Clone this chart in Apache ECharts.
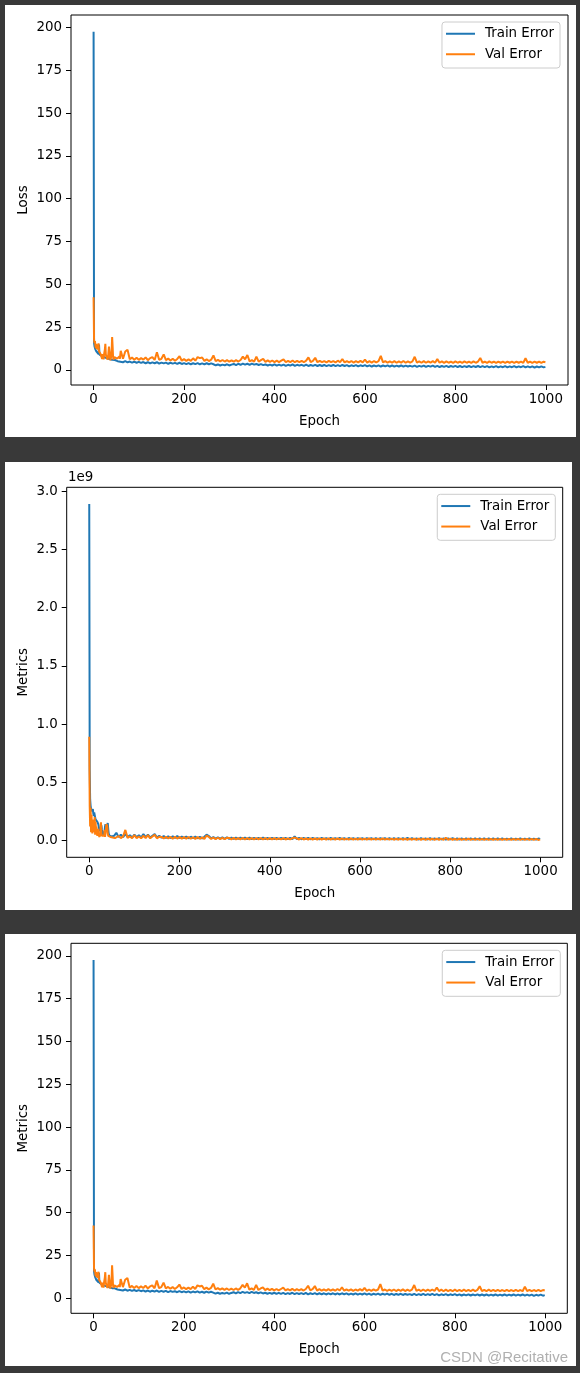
<!DOCTYPE html>
<html><head><meta charset="utf-8">
<script src="https://cdn.jsdelivr.net/npm/echarts@6/dist/echarts.min.js"></script>
<style>
html,body{margin:0;padding:0;background:#393939;width:580px;height:1373px;overflow:hidden}
.panel{position:absolute;background:#fff}
</style></head><body>
<div id="p1" class="panel" style="left:5px;top:5px;width:571px;height:432px"></div>
<div id="p2" class="panel" style="left:5px;top:462px;width:567px;height:448px"></div>
<div id="p3" class="panel" style="left:5px;top:934px;width:571px;height:432px"></div>
<script>
// ---------- DATA ----------
const earlyEpochs = [0,1,2,3,4,5,6,7,8,9,10,11,12,13,14,15,16,17,18,19,20,21,22,23,24,25,26,27,28,29,30,31,32,33,34,35,36,37,38,39,40,41,42,43,44,45,46,47,48,49,50,51,52,53,54,55,56,57,58,59];
const lateEpochs = [60,65,70,75,80,85,90,95,100,105,110,115,120,125,130,135,140,145,150,155,160,165,170,175,180,185,190,195,200,205,210,215,220,225,230,235,240,245,250,255,260,265,270,275,280,285,290,295,300,305,310,315,320,325,330,335,340,345,350,355,360,365,370,375,380,385,390,395,400,405,410,415,420,425,430,435,440,445,450,455,460,465,470,475,480,485,490,495,500,505,510,515,520,525,530,535,540,545,550,555,560,565,570,575,580,585,590,595,600,605,610,615,620,625,630,635,640,645,650,655,660,665,670,675,680,685,690,695,700,705,710,715,720,725,730,735,740,745,750,755,760,765,770,775,780,785,790,795,800,805,810,815,820,825,830,835,840,845,850,855,860,865,870,875,880,885,890,895,900,905,910,915,920,925,930,935,940,945,950,955,960,965,970,975,980,985,990,995,999];

// Loss (panel 1 and panel 3)
const trainLossEarly = [197.5,15.8,13.9,12.8,12.0,11.2,10.8,10.3,10.0,9.7,9.5,9.2,14.8,9.0,8.8,8.6,8.5,8.3,8.6,8.1,7.9,7.7,7.6,7.8,7.4,7.3,8.2,7.1,7.0,6.9,7.0,6.7,6.6,6.5,6.8,6.4,6.3,6.2,6.5,6.1,6.0,5.9,6.6,6.0,5.8,5.7,5.6,5.8,5.5,5.4,5.3,5.5,5.2,5.1,5.3,5.0,4.9,5.1,4.9,4.8];
const trainLossLate = [
5.2,4.5,5.1,4.4,4.9,4.3,4.8,4.2,4.7,4.1,
4.6,3.9,4.5,3.8,4.4,3.9,4.5,3.7,4.3,3.8,
4.3,3.6,4.2,3.7,4.1,3.5,4.2,3.5,4.0,3.4,
4.0,3.3,3.9,3.4,4.0,3.3,3.8,3.2,3.9,3.3,
3.8,3.3,2.7,3.2,2.6,3.1,2.7,3.3,2.6,3.1,
3.5,2.8,3.6,3.0,3.7,3.1,3.6,3.0,3.7,3.1,
3.5,2.9,3.4,2.8,3.2,2.6,3.1,2.6,3.2,2.5,
3.1,2.5,3.1,2.4,3.0,2.5,3.2,2.4,3.0,2.5,
3.0,2.4,3.1,2.3,2.9,2.4,3.0,2.3,2.9,2.3,
2.9,2.2,2.8,2.3,2.9,2.2,2.8,2.2,2.9,2.3,
2.8,2.1,2.7,2.2,2.8,2.1,2.7,2.2,2.8,2.1,
2.7,2.0,2.6,2.1,2.7,2.0,2.6,2.1,2.7,2.0,
2.6,1.9,2.5,2.0,2.6,1.9,2.5,2.0,2.4,1.9,
2.5,1.8,2.4,1.9,2.5,1.8,2.4,1.9,2.5,1.8,
2.4,1.7,2.3,1.8,2.4,1.7,2.3,1.8,2.4,1.7,
2.3,1.6,2.2,1.7,2.3,1.6,2.2,1.7,2.3,1.6,
2.2,1.6,2.2,1.5,2.1,1.6,2.2,1.5,2.1,1.6,
2.2,1.5,2.1,1.6,2.2,1.5,2.1,1.6,2.2,1.5,
2.1,1.5,2.1,1.4,2.0,1.5,2.1,1.5,
1.8];
const valLossEarly = [42.5,17.8,15.6,16.9,14.0,12.8,15.2,12.2,11.5,14.6,11.8,15.5,10.8,10.2,10.9,9.6,9.3,10.0,8.8,6.5,9.2,8.3,6.2,8.8,7.8,12.2,15.2,9.2,8.0,7.6,8.2,6.0,7.3,7.8,13.6,14.0,8.3,5.6,6.0,7.9,11.5,19.2,14.2,8.0,6.0,7.0,7.5,6.9,6.8,7.3,6.7,6.9,6.6,7.1,6.5,6.9,6.4,7.8,6.5,6.3];
const valLossLate = [
11.2,6.5,10.8,11.8,6.2,7.2,6.0,7.1,5.9,6.9,
6.0,7.3,5.7,6.9,7.5,5.8,10.3,5.9,6.5,9.1,
5.7,6.6,5.5,6.5,5.4,6.4,8.0,5.4,6.3,5.3,
6.2,5.3,6.8,5.4,7.5,6.9,7.3,5.3,6.2,5.2,
6.0,8.5,5.1,5.9,5.0,5.8,4.9,5.7,4.8,5.6,
4.8,5.7,4.9,5.8,7.8,6.2,8.7,5.0,5.7,4.9,
7.8,4.8,5.7,6.4,4.7,5.6,4.7,5.5,4.6,5.4,
4.6,5.4,6.2,4.6,5.3,4.6,5.5,4.5,5.3,4.6,
5.3,4.5,5.4,7.3,4.6,5.3,7.1,4.5,5.3,4.5,
5.2,4.4,5.3,4.5,5.2,4.4,5.4,4.5,6.4,4.4,
5.2,4.4,5.2,4.3,5.1,4.4,5.3,4.4,6.1,4.3,
5.1,4.3,5.2,4.4,5.1,8.2,4.4,5.1,4.3,5.0,
4.3,5.1,4.2,5.0,4.3,5.2,4.2,5.0,4.3,5.0,
7.7,4.3,5.0,4.2,5.1,4.2,5.0,4.3,5.1,4.2,
6.3,4.2,5.0,4.1,5.0,4.2,4.9,4.1,5.0,4.2,
4.9,4.1,5.0,4.2,4.9,4.1,5.0,4.2,4.9,7.0,
4.2,4.9,4.1,5.0,4.2,4.9,4.1,4.9,4.2,4.8,
4.1,4.9,4.2,4.8,4.1,4.9,4.2,4.8,4.1,6.8,
4.2,4.9,4.1,4.8,4.2,4.9,4.1,4.8,
4.5];

// Metrics (panel 2), in units of 1e9
const trainMetricEarly = [2.89,0.62,0.35,0.30,0.27,0.25,0.26,0.24,0.27,0.23,0.21,0.24,0.22,0.20,0.18,0.19,0.17,0.18,0.16,0.15,0.14,0.12,0.10,0.09,0.08,0.07,0.10,0.13,0.09,0.07,0.06,0.05,0.06,0.05,0.08,0.12,0.14,0.15,0.11,0.08,0.13,0.15,0.10,0.06,0.05,0.04,0.05,0.04,0.035,0.04,0.035,0.03,0.04,0.035,0.03,0.04,0.05,0.035,0.03,0.04];
const trainMetricLate = [
0.065,0.030,0.050,0.028,0.055,0.030,0.045,0.025,0.050,0.028,
0.045,0.025,0.055,0.028,0.050,0.024,0.040,0.055,0.025,0.040,
0.024,0.038,0.022,0.036,0.020,0.035,0.022,0.038,0.020,0.034,
0.020,0.034,0.018,0.032,0.019,0.033,0.018,0.030,0.017,0.031,
0.050,0.038,0.018,0.028,0.016,0.027,0.015,0.026,0.014,0.026,
0.014,0.025,0.013,0.024,0.014,0.025,0.013,0.024,0.012,0.024,
0.012,0.023,0.011,0.023,0.012,0.024,0.011,0.022,0.012,0.023,
0.011,0.022,0.012,0.023,0.011,0.022,0.010,0.023,0.011,0.035,
0.011,0.022,0.010,0.021,0.011,0.022,0.010,0.021,0.011,0.020,
0.010,0.021,0.011,0.020,0.010,0.021,0.010,0.020,0.011,0.021,
0.010,0.020,0.009,0.021,0.010,0.020,0.009,0.020,0.010,0.019,
0.009,0.020,0.010,0.019,0.009,0.020,0.009,0.019,0.010,0.020,
0.009,0.019,0.008,0.020,0.009,0.019,0.008,0.019,0.009,0.022,
0.008,0.019,0.009,0.018,0.008,0.019,0.009,0.018,0.008,0.019,
0.008,0.018,0.009,0.019,0.008,0.018,0.007,0.018,0.008,0.019,
0.007,0.018,0.008,0.017,0.007,0.018,0.008,0.017,0.007,0.018,
0.007,0.017,0.008,0.018,0.007,0.017,0.006,0.017,0.007,0.018,
0.006,0.017,0.007,0.016,0.006,0.017,0.007,0.016,0.006,0.017,
0.006,0.016,0.007,0.017,0.006,0.016,0.007,0.016,
0.012];
const valMetricEarly = [0.89,0.30,0.12,0.28,0.07,0.22,0.09,0.06,0.18,0.08,0.15,0.07,0.20,0.05,0.16,0.08,0.12,0.06,0.04,0.10,0.05,0.04,0.06,0.03,0.05,0.12,0.155,0.06,0.04,0.03,0.05,0.035,0.03,0.04,0.09,0.03,0.04,0.10,0.14,0.155,0.12,0.06,0.04,0.03,0.025,0.03,0.025,0.03,0.035,0.025,0.03,0.02,0.025,0.03,0.02,0.025,0.03,0.02,0.025,0.02];
const valMetricLate = [
0.022,0.038,0.020,0.035,0.090,0.022,0.034,0.020,0.045,0.020,
0.034,0.018,0.040,0.020,0.045,0.018,0.034,0.048,0.018,0.032,
0.030,0.016,0.032,0.016,0.030,0.015,0.031,0.016,0.029,0.015,
0.028,0.014,0.029,0.014,0.027,0.013,0.028,0.014,0.026,0.013,
0.042,0.030,0.013,0.024,0.012,0.023,0.011,0.022,0.011,0.022,
0.021,0.010,0.021,0.010,0.020,0.010,0.021,0.009,0.020,0.010,
0.020,0.009,0.019,0.010,0.020,0.009,0.019,0.009,0.020,0.009,
0.019,0.009,0.018,0.009,0.019,0.008,0.018,0.009,0.019,0.024,
0.018,0.008,0.019,0.008,0.018,0.008,0.018,0.008,0.017,0.008,
0.017,0.008,0.018,0.007,0.017,0.008,0.017,0.007,0.018,0.008,
0.017,0.007,0.016,0.007,0.017,0.007,0.016,0.007,0.017,0.007,
0.016,0.007,0.017,0.006,0.016,0.007,0.016,0.006,0.017,0.007,
0.016,0.006,0.016,0.006,0.015,0.006,0.016,0.006,0.015,0.006,
0.015,0.006,0.016,0.005,0.015,0.006,0.015,0.005,0.016,0.006,
0.015,0.005,0.015,0.006,0.015,0.005,0.022,0.005,0.015,0.006,
0.014,0.005,0.015,0.005,0.014,0.005,0.015,0.005,0.014,0.005,
0.014,0.005,0.014,0.004,0.014,0.005,0.014,0.004,0.014,0.005,
0.013,0.004,0.014,0.005,0.013,0.004,0.014,0.004,0.013,0.005,
0.013,0.004,0.013,0.005,0.013,0.004,0.013,0.004,
0.009];

const xTicks = [0,200,400,600,800,1000];
const lossTicks = [0,25,50,75,100,125,150,175,200];
const metricTicks = [0,0.5,1.0,1.5,2.0,2.5,3.0];
const seriesNames = ['Train Error','Val Error'];

// ---------- BUILD ----------
const epochs = earlyEpochs.concat(lateEpochs);
const trainLoss = trainLossEarly.concat(trainLossLate);
const valLoss = valLossEarly.concat(valLossLate);
const trainMetric = trainMetricEarly.concat(trainMetricLate);
const valMetric = valMetricEarly.concat(valMetricLate);
function pairs(vals){ return epochs.map((e,i)=>[e, vals[i]]); }

const FONT = 'DejaVu Sans';
const FS = 13.4;
function makeOption(o){
  return {
    animation:false,
    grid:{left:o.grid[0],top:o.grid[1],width:o.grid[2],height:o.grid[3],show:true,borderColor:'#000',borderWidth:1,backgroundColor:'transparent'},
    xAxis:{type:'value',min:-49.95,max:1048.95,name:'Epoch',nameLocation:'middle',nameGap:30,nameMoveOverlap:false,
      nameTextStyle:{fontFamily:FONT,fontSize:FS,color:'#000'},
      axisLine:{show:false,onZero:false},splitLine:{show:false},
      axisTick:{show:true,inside:false,length:5,lineStyle:{color:'#000',width:1},customValues:xTicks},
      axisLabel:{customValues:xTicks,fontFamily:FONT,fontSize:FS,color:'#000',margin:8,formatter:v=>String(v)}},
    yAxis:{type:'value',min:o.ymin,max:o.ymax,name:o.yName,nameLocation:'middle',nameGap:o.nameGap,nameMoveOverlap:false,
      nameTextStyle:{fontFamily:FONT,fontSize:FS,color:'#000'},
      axisLine:{show:false,onZero:false},splitLine:{show:false},
      axisTick:{show:true,inside:false,length:5,lineStyle:{color:'#000',width:1},customValues:o.yTicks},
      axisLabel:{customValues:o.yTicks,fontFamily:FONT,fontSize:FS,color:'#000',margin:9,formatter:o.fmt}},
    legend:{orient:'vertical',right:o.legendRight,top:o.legendTop,icon:'rect',itemWidth:29,itemHeight:2,itemGap:5,
      padding:[4,6,6,4],backgroundColor:'rgba(255,255,255,0.8)',borderColor:'#cccccc',borderWidth:1,borderRadius:3,
      textStyle:{fontFamily:FONT,fontSize:FS,color:'#000',lineHeight:15.5,padding:[0,0,0,5]},
      data:seriesNames,selectedMode:false},
    graphic:o.graphic||[],
    series:[
      {type:'line',name:seriesNames[0],data:pairs(o.train),showSymbol:false,symbol:'none',silent:true,
        lineStyle:{color:'#1f77b4',width:2},itemStyle:{color:'#1f77b4'}},
      {type:'line',name:seriesNames[1],data:pairs(o.val),showSymbol:false,symbol:'none',silent:true,
        lineStyle:{color:'#ff7f0e',width:2},itemStyle:{color:'#ff7f0e'}}
    ]
  };
}

echarts.init(document.getElementById('p1')).setOption(makeOption({
  grid:[66,10,497,370], ymin:-8.8, ymax:207.3, yName:'Loss', nameGap:41, yTicks:lossTicks,
  fmt:v=>String(v), legendRight:16, legendTop:17, train:trainLoss, val:valLoss
}));
echarts.init(document.getElementById('p2')).setOption(makeOption({
  grid:[61.7,25.3,496,370], ymin:-0.145, ymax:3.034, yName:'Metrics', nameGap:37, yTicks:metricTicks,
  fmt:v=>v.toFixed(1), legendRight:16.7, legendTop:32.3, train:trainMetric, val:valMetric,
  graphic:[{type:'text',left:63,top:9,style:{text:'1e9',font:FS+'px "DejaVu Sans"',fill:'#000'}}]
}));
echarts.init(document.getElementById('p3')).setOption(makeOption({
  grid:[66,9.3,496.3,370], ymin:-8.8, ymax:207.3, yName:'Metrics', nameGap:41, yTicks:lossTicks,
  fmt:v=>String(v), legendRight:15.7, legendTop:16.3, train:trainLoss, val:valLoss,
  graphic:[{type:'text',right:8,top:416,style:{text:'CSDN @Recitative',font:'15px "Liberation Sans"',fill:'#b0b0b0'}}]
}));
</script>
</body></html>
